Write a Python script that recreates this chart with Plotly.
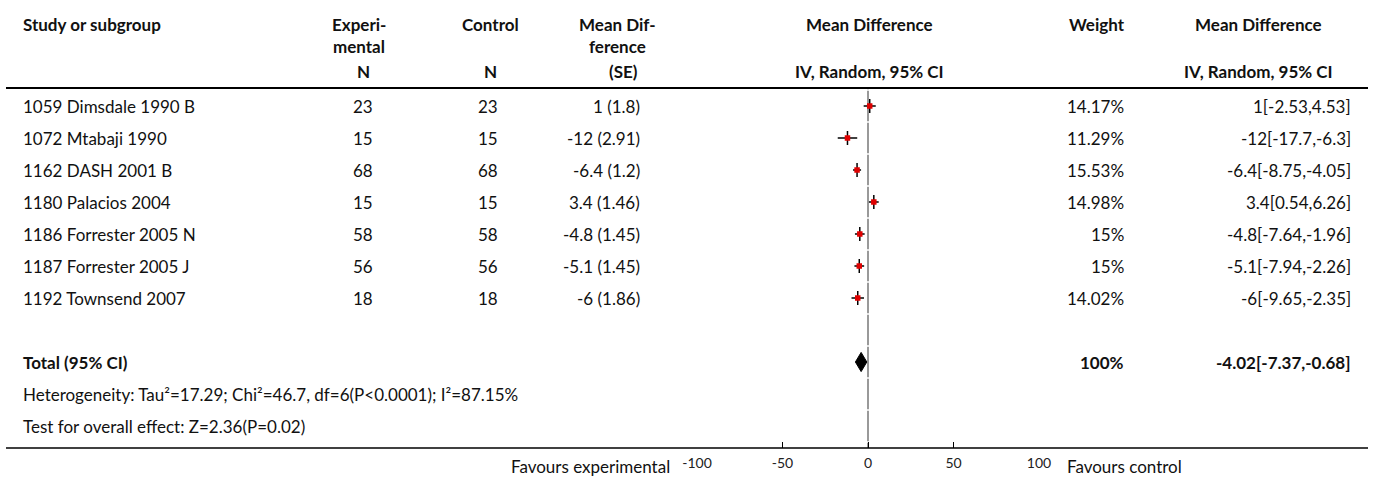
import plotly.graph_objects as go

# ---- data ----
studies = ["1059 Dimsdale 1990 B", "1072 Mtabaji 1990", "1162 DASH 2001 B", "1180 Palacios 2004",
           "1186 Forrester 2005 N", "1187 Forrester 2005 J", "1192 Townsend 2007"]
n_exp = [23, 15, 68, 15, 58, 56, 18]
n_ctl = [23, 15, 68, 15, 58, 56, 18]
md = [1, -12, -6.4, 3.4, -4.8, -5.1, -6]
se = [1.8, 2.91, 1.2, 1.46, 1.45, 1.45, 1.86]
ci_lo = [-2.53, -17.7, -8.75, 0.54, -7.64, -7.94, -9.65]
ci_hi = [4.53, -6.3, -4.05, 6.26, -1.96, -2.26, -2.35]
weights = ["14.17%", "11.29%", "15.53%", "14.98%", "15%", "15%", "14.02%"]
total_md = -4.02
total_lo = -7.37
total_hi = -0.68
total_weight = "100%"
heterogeneity = "Heterogeneity: Tau²=17.29; Chi²=46.7, df=6(P<0.0001); I²=87.15%"
overall = "Test for overall effect: Z=2.36(P=0.02)"
tick_vals = [-100, -50, 0, 50, 100]
tick_text = ["-100", "-50", "0", "50", "100"]

W, H = 1375, 478
FONT = "Source Sans Pro, Lato, Open Sans, sans-serif"
ROW0_PX, ROW_PX = 106, 32
y_top = -ROW0_PX / ROW_PX
y_bot = (H - ROW0_PX) / ROW_PX
def px2row(p):
    return (p - ROW0_PX) / ROW_PX

n = len(studies)
rows = list(range(n))
total_row = n + 1
het_row = n + 2
ovr_row = n + 3
axis_px = 448
header_px = 88

fig = go.Figure()

# reference line at 0 (segmented per row)
vx, vy = [], []
r = px2row(header_px + 1)
end = px2row(axis_px)
k = -1
while True:
    a = max(k - 0.5 + 0.02, r)
    b = min(k + 0.5 - 0.02, end)
    if a < b:
        vx += [0, 0, None]
        vy += [a, b, None]
    if k + 0.5 > end:
        break
    k += 1
fig.add_trace(go.Scatter(x=vx, y=vy, mode="lines", line=dict(color="#999999", width=2),
                         hoverinfo="skip", showlegend=False))

# CI lines
cx, cy = [], []
for i in rows:
    cx += [ci_lo[i], ci_hi[i], None]
    cy += [i, i, None]
fig.add_trace(go.Scatter(x=cx, y=cy, mode="lines", line=dict(color="black", width=1.5),
                         hoverinfo="skip", showlegend=False))
fig.add_trace(go.Scatter(x=md, y=rows, mode="markers",
                         marker=dict(symbol="line-ns", size=10, line=dict(color="black", width=1.5)),
                         hoverinfo="skip", showlegend=False))
fig.add_trace(go.Scatter(x=md, y=rows, mode="markers",
                         marker=dict(symbol="square", size=5.5, color="#e00000", line=dict(width=0)),
                         hoverinfo="skip", showlegend=False))

# total diamond
fig.add_trace(go.Scatter(x=[total_lo, total_md, total_hi, total_md, total_lo],
                         y=[total_row, total_row - 0.3, total_row, total_row + 0.3, total_row],
                         mode="lines", fill="toself", fillcolor="black",
                         line=dict(color="black", width=1), hoverinfo="skip", showlegend=False))

ann = []
BODY = 17
def txt(x, y, t, anchor="left", bold=False, size=BODY, color="#111"):
    ann.append(dict(x=x / W, y=y, xref="paper", yref="y", text=("<b>%s</b>" % t) if bold else t,
                    showarrow=False, xanchor=anchor, yanchor="middle", borderpad=0,
                    font=dict(family=FONT, size=size, color=color)))

hb = 17
h1, h2, h3 = px2row(24), px2row(46), px2row(71)
txt(22, h1, "Study or subgroup", bold=True, size=hb)
txt(359, h1, "Experi-", "center", True, hb)
txt(359, h2, "mental", "center", True, hb)
txt(491, h1, "Control", "center", True, hb)
txt(617, h1, "Mean Dif-", "center", True, hb)
txt(617, h2, "ference", "center", True, hb)
txt(869, h1, "Mean Difference", "center", True, hb)
txt(1097, h1, "Weight", "center", True, hb)
txt(1258, h1, "Mean Difference", "center", True, hb)
txt(364, h3, "N", "center", True, hb)
txt(490, h3, "N", "center", True, hb)
txt(623, h3, "(SE)", "center", True, hb)
txt(869, h3, "IV, Random, 95% CI", "center", True, hb)
txt(1258, h3, "IV, Random, 95% CI", "center", True, hb)

for i in rows:
    txt(22, i, studies[i])
    txt(374, i, str(n_exp[i]), "right")
    txt(499, i, str(n_ctl[i]), "right")
    txt(641, i, "%g (%g)" % (md[i], se[i]), "right")
    txt(1125, i, weights[i], "right")
    txt(1352, i, "%g[%g,%g]" % (md[i], ci_lo[i], ci_hi[i]), "right")

txt(22, total_row, "Total (95% CI)", bold=True)
txt(1125, total_row, total_weight, "right", bold=True)
txt(1352, total_row, "%g[%g,%g]" % (total_md, total_lo, total_hi), "right", bold=True)
txt(22, het_row, heterogeneity)
txt(22, ovr_row, overall)
txt(671, px2row(466), "Favours experimental", "right")
txt(1066, px2row(466), "Favours control", "left")

shapes = [
    dict(type="line", xref="paper", yref="y", x0=6 / W, x1=1368 / W, y0=px2row(header_px), y1=px2row(header_px),
         line=dict(color="black", width=2)),
    dict(type="line", xref="paper", yref="y", x0=6 / W, x1=1368 / W, y0=px2row(axis_px), y1=px2row(axis_px),
         line=dict(color="black", width=1.5)),
]

x0px, x1px = 697, 1039
fig.update_layout(
    width=W, height=H, margin=dict(l=0, r=0, t=0, b=0, autoexpand=False),
    paper_bgcolor="white", plot_bgcolor="rgba(0,0,0,0)",
    annotations=ann, shapes=shapes,
    xaxis=dict(domain=[x0px / W, x1px / W], range=[-100, 100], tickvals=tick_vals, ticktext=tick_text,
               ticks="inside", ticklen=6, tickwidth=1, tickcolor="black", automargin=False,
               ticklabelstandoff=5,
               showgrid=False, zeroline=False, showline=False, anchor="free",
               position=1 - axis_px / H, tickfont=dict(family=FONT, size=14, color="#222"),
               fixedrange=True),
    yaxis=dict(domain=[0, 1], range=[y_bot, y_top], visible=False, fixedrange=True, automargin=False),
    showlegend=False,
)

fig.write_html("out.html", config={"displayModeBar": False},
               post_script="document.body.style.margin='0';document.body.style.overflow='hidden';")
